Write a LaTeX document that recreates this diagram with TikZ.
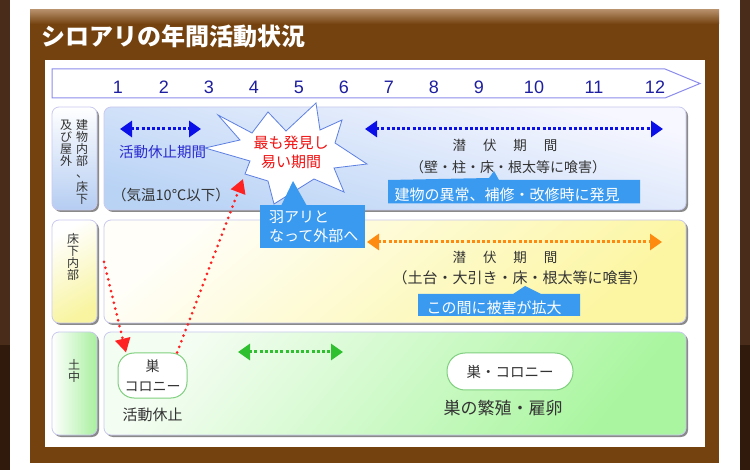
\documentclass[tikz,border=0pt]{standalone}
\usepackage{fontspec}
\setmainfont{Noto Sans CJK JP}
\newfontfamily\arialf{Liberation Sans}
\usetikzlibrary{arrows.meta,shadows}
\definecolor{woodDark}{HTML}{4A2C1A}
\definecolor{woodDarker}{HTML}{2F1A0C}
\definecolor{frameC}{HTML}{74420F}
\definecolor{frameLight}{HTML}{B48D68}
\definecolor{tlBorder}{HTML}{8C8CEC}
\definecolor{numC}{HTML}{1E1EA0}
\definecolor{rowLine}{HTML}{C9C9EF}
\definecolor{shadowC}{HTML}{8A8A8A}
\definecolor{blueArrow}{HTML}{0B10E8}
\definecolor{orangeArrow}{HTML}{FF8A10}
\definecolor{greenArrow}{HTML}{2EC02E}
\definecolor{redC}{HTML}{FF2222}
\definecolor{calloutC}{HTML}{3A9AF0}
\definecolor{starLine}{HTML}{5C7FE2}
\definecolor{blueText}{HTML}{2A2AD0}
\definecolor{txtC}{HTML}{333333}
\definecolor{starText}{HTML}{F01010}
\definecolor{nestLine}{HTML}{7FCF7F}
\newcommand\fsz[2]{\fontsize{#1}{#2}\selectfont}
\begin{document}
\begin{tikzpicture}[x=1pt,y=-1pt,
  boxbase/.style={draw=rowLine, line width=0.8pt, rounded corners=7pt, inner sep=0pt,
    drop shadow={shadow xshift=2pt, shadow yshift=-2pt, fill=shadowC, opacity=1}},
  lblbox/.style={boxbase, minimum width=45pt, minimum height=103pt},
  rowbox/.style={boxbase, minimum width=582pt, minimum height=103pt},
  num/.style={anchor=base, text=numC, font=\arialf\fsz{18}{18}, inner sep=0pt},
  vlbl/.style={align=center, text=txtC, font=\fsz{12}{12}, inner sep=0pt},
  txt/.style={text=txtC, inner sep=0pt},
  bdots/.style={line width=3pt, dash pattern=on 3pt off 2.2pt},
  dbl/.style={{Triangle[length=12pt,width=16pt]}-{Triangle[length=12pt,width=16pt]}},
  reddots/.style={draw=redC, line width=3pt, dash pattern=on 0pt off 6pt, line cap=round,
    -{Triangle[length=14pt,width=15pt,line cap=butt]}},
  callout/.style={fill=calloutC, draw=none},
  nest/.style={draw=nestLine, fill=white, line width=1pt, inner sep=0pt, text=txtC}
]
\useasboundingbox (0,0) rectangle (750,470);
% outer background
\fill[white] (0,0) rectangle (750,470);
\fill[woodDark] (0,0) rectangle (10,345);
\fill[woodDarker] (0,345) rectangle (10,470);
\fill[woodDark] (740,0) rectangle (750,345);
\fill[woodDarker] (740,345) rectangle (750,470);
% frame
\fill[frameC] (30,10) rectangle (719,463);
\shade[top color=frameLight, bottom color=frameC] (30,10) rectangle (719,24);
\node[anchor=west, text=white, font=\bfseries\fsz{24}{24}, inner sep=0pt] (title) at (41,36) {シロアリの年間活動状況};
% white panel
\fill[white] (45,60) rectangle (705,447);
% timeline
\draw[draw=tlBorder, fill=white, line width=1pt] (52,69) -- (665,69) -- (700,83.5) -- (665,98) -- (52,98) -- cycle;
\foreach \n/\x in {1/118,2/164,3/209,4/254,5/299,6/344,7/389,8/434,9/479,10/534,11/594,12/655}
  \node[num] (m\n) at (\x,94) {\n};
% rows
\node[lblbox, top color=white, bottom color={rgb,255:red,181;green,205;blue,242}] (lab1) at (74.5,158.5) {};
\node[rowbox, top color=white!97!blue, bottom color={rgb,255:red,185;green,211;blue,245}, shading angle=-15] (row1) at (395,158.5) {};
\node[lblbox, top color=white, bottom color={rgb,255:red,248;green,244;blue,160}, shading angle=30] (lab2) at (74.5,271.5) {};
\node[rowbox, top color={rgb,255:red,255;green,254;blue,248}, bottom color={rgb,255:red,252;green,246;blue,162}, shading angle=40] (row2) at (395,271.5) {};
\node[lblbox, left color=white, right color={rgb,255:red,168;green,240;blue,158}] (lab3) at (74.5,383.5) {};
\node[rowbox, top color={rgb,255:red,244;green,253;blue,242}, bottom color={rgb,255:red,170;green,246;blue,160}, shading angle=50] (row3) at (395,383.5) {};
% vertical labels
\node[vlbl, anchor=north] (lab1a) at (82,119.5) {建\\物\\内\\部\\、\\[2pt]床\\下};
\node[vlbl, anchor=north] (lab1b) at (66,119.5) {及\\び\\屋\\外};
\node[vlbl] (lab2t) at (73,257) {床\\下\\内\\部};
\node[vlbl] (lab3t) at (74,371) {土\\中};
% row 1 content
\coordinate (b1s) at (120,129); \coordinate (b1e) at (201,129);
\draw[blueArrow, bdots, dbl] (b1s) -- (b1e);
\node[anchor=west, text=blueText, font=\fsz{14.5}{14.5}, inner sep=0pt] (rest1) at (119,152.5) {活動休止期間};
\node[anchor=west, txt, font=\fsz{14.5}{14.5}] (temp) at (112,195) {（気温10℃以下）};
\coordinate (b2s) at (365,129); \coordinate (b2e) at (663,129);
\draw[blueArrow, bdots, dbl] (b2s) -- (b2e);
\node[txt, font=\fsz{13.5}{13.5}] (lat1) at (505,145) {潜\hspace{17pt}伏\hspace{17pt}期\hspace{17pt}間};
\node[txt, font=\fsz{14}{14}] (dmg1) at (508,167) {（壁・柱・床・根太等に喰害）};
\fill[callout] (388,180) -- (489,178) -- (494,171) -- (499,180) -- (640,180) -- (640,203.5) -- (388,203.5) -- cycle;
\node[text=white, font=\fsz{15}{15}, inner sep=0pt] (find) at (507,194.5) {建物の異常、補修・改修時に発見};
% starburst
\draw[starLine, fill=white, line width=0.8pt, line join=miter]
  (218,115) -- (252,133) -- (268,112) -- (286,131) -- (316,103) -- (320,130) -- (342,120)
  -- (335,143) -- (367,164) -- (334,168) -- (344,192) -- (314,179) -- (274,204) -- (268,181)
  -- (245,174) -- (250,161) -- (205,148) -- (240,140) -- cycle;
\coordinate (starpt) at (243,179);
\node[align=center, text=starText, font=\fsz{15}{19}, inner sep=0pt] (burst) at (291,152.5) {最も発見し\\易い期間};
% callout winged ants
\fill[callout] (281,206) -- (293,181) -- (307,206) -- cycle;
\node[callout, minimum width=105pt, minimum height=43pt, inner sep=0pt] (wing) at (312.5,226.5) {};
\node[anchor=north west, align=left, text=white, font=\fsz{15}{18.5}, inner sep=0pt] (wingt) at (269,210.5) {羽アリと\\なって外部へ};
% row 2 content
\coordinate (o1s) at (367,242); \coordinate (o1e) at (662,242);
\draw[orangeArrow, bdots, dbl] (o1s) -- (o1e);
\node[txt, font=\fsz{13.5}{13.5}] (lat2) at (505,257) {潜\hspace{17pt}伏\hspace{17pt}期\hspace{17pt}間};
\node[txt, font=\fsz{15}{15}] (dmg2) at (520,278) {（土台・大引き・床・根太等に喰害）};
\fill[callout] (418,294) -- (513,294) -- (525,286) -- (541,294) -- (580,294) -- (580,316) -- (418,316) -- cycle;
\node[text=white, font=\fsz{15}{15}, inner sep=0pt] (spread) at (494,307.5) {この間に被害が拡大};
% row 3 content
\node[nest, minimum width=69pt, minimum height=45pt, rounded corners=16pt, align=center, font=\fsz{14}{20}] (nest1) at (152.5,375.5) {巣\\コロニー};
\node[txt, font=\fsz{15}{15}] (rest3) at (152.5,415) {活動休止};
\coordinate (g1s) at (238,352); \coordinate (g1e) at (343,352);
\draw[greenArrow, bdots, dbl] (g1s) -- (g1e);
\node[nest, minimum width=126pt, minimum height=37pt, rounded corners=18pt, font=\fsz{14.5}{14.5}] (nest2) at (510,371.5) {巣・コロニー};
\node[txt, font=\fsz{17}{17}] (breed) at (503,408) {巣の繁殖・雇卵};
% red dotted arrows
\coordinate (r1s) at (104,262);
\draw[reddots] (r1s) -- (nest1.139);
\draw[reddots] (nest1.43) -- (starpt);
\end{tikzpicture}
\end{document}
